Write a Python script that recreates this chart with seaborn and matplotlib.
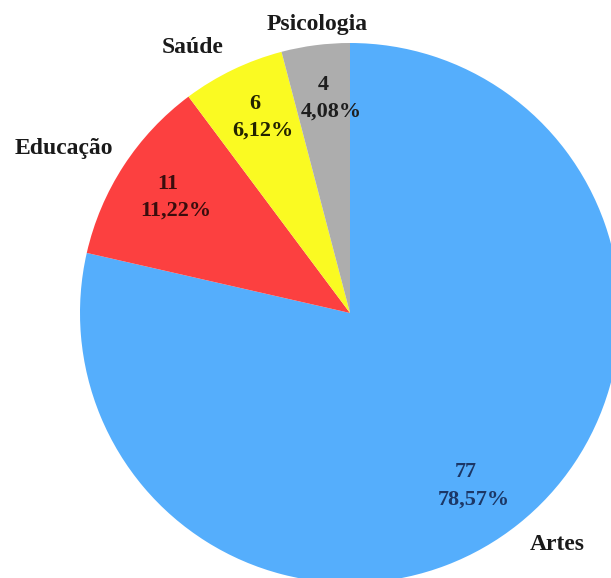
import matplotlib
matplotlib.use("Agg")
import matplotlib.pyplot as plt
import seaborn as sns
import numpy as np

categories = ["Artes", "Educação", "Saúde", "Psicologia"]
counts = [77, 11, 6, 4]
percent_labels = ["78,57%", "11,22%", "6,12%", "4,08%"]
colors = ["#55aefc", "#fc4040", "#fafa22", "#adadad"]
value_colors = ["#1c3766", "#3a0d0d", "#222200", "#1e1e1e"]

sns.set_theme(style="white")
plt.rcParams["font.family"] = ["Liberation Serif", "DejaVu Serif"]

W, H = 611, 578
fig = plt.figure(figsize=(W / 100, H / 100), dpi=100)
cx, cy, r = 350, 313, 270
ax = fig.add_axes([(cx - r) / W, (H - cy - r) / H, 2 * r / W, 2 * r / H])

wedges, _ = ax.pie(counts, colors=colors, startangle=90, counterclock=False,
                   radius=1.0, wedgeprops=dict(linewidth=0))
ax.set_xlim(-1, 1)
ax.set_ylim(-1, 1)
ax.set_aspect("equal")
ax.set_axis_off()

# label placement (distance in radii, angular tweak in degrees)
label_dist = [1.152, 1.223, 1.141, 1.077]
label_adj = [3.2, 3.1, 4.9, -0.85]
value_dist = [0.78, 0.786, 0.80, 0.80]
value_adj = [-3.8, 0.0, -0.8, -1.4]
px = 0.72  # points per pixel at dpi 100

for w, cat, cnt, pct, vc, ld, la, vd, va in zip(wedges, categories, counts, percent_labels,
                                                value_colors, label_dist, label_adj,
                                                value_dist, value_adj):
    mid = np.deg2rad((w.theta1 + w.theta2) / 2)
    a = mid + np.deg2rad(va)
    pos = (vd * np.cos(a), vd * np.sin(a))
    ax.annotate(f"{cnt}", xy=pos, xytext=(-4 * px, 13.5 * px), textcoords="offset points",
                ha="center", va="center", fontsize=16, fontweight="bold", color=vc)
    ax.annotate(pct, xy=pos, xytext=(4 * px, -13.5 * px), textcoords="offset points",
                ha="center", va="center", fontsize=16, fontweight="bold", color=vc)
    b = mid + np.deg2rad(la)
    ax.text(ld * np.cos(b), ld * np.sin(b), cat, ha="center", va="center",
            fontsize=17, fontweight="bold", color="#1a1a1a")

fig.savefig("out.png", dpi=100)
